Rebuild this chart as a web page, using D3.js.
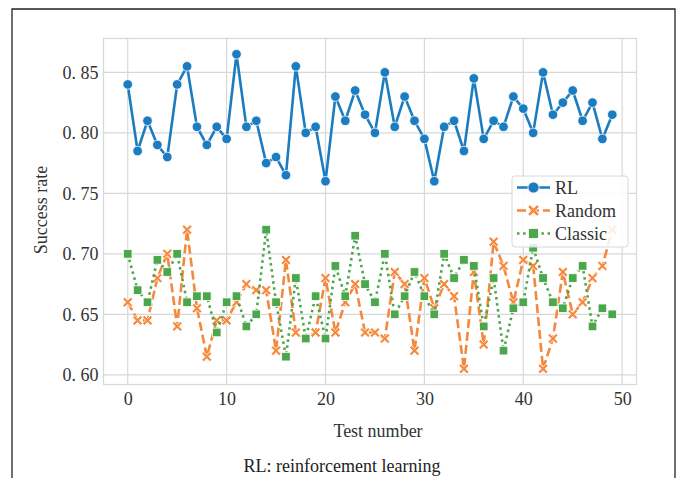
<!DOCTYPE html>
<html>
<head>
<meta charset="utf-8">
<script src="https://cdn.jsdelivr.net/npm/d3@7"></script>
<style>
  body { margin: 0; background: #fff; }
  svg { display: block; font-family: "Liberation Serif", "DejaVu Serif", serif; }
</style>
</head>
<body>
<svg width="681" height="478"></svg>
<script>
// test numbers 0..49
var tests = d3.range(50);

var rlRate = [0.84, 0.785, 0.81, 0.79, 0.78, 0.84, 0.855, 0.805, 0.79, 0.805,
              0.795, 0.865, 0.805, 0.81, 0.775, 0.78, 0.765, 0.855, 0.80, 0.805,
              0.76, 0.83, 0.81, 0.835, 0.815, 0.80, 0.85, 0.805, 0.83, 0.81,
              0.795, 0.76, 0.805, 0.81, 0.785, 0.845, 0.795, 0.81, 0.805, 0.83,
              0.82, 0.80, 0.85, 0.815, 0.825, 0.835, 0.81, 0.825, 0.795, 0.815];

var randomRate = [0.66, 0.645, 0.645, 0.68, 0.70, 0.64, 0.72, 0.655, 0.615, 0.645,
                  0.645, 0.66, 0.675, 0.67, 0.67, 0.62, 0.695, 0.635, 0.63, 0.635,
                  0.68, 0.635, 0.66, 0.675, 0.635, 0.635, 0.63, 0.685, 0.675, 0.62,
                  0.68, 0.655, 0.675, 0.665, 0.605, 0.685, 0.625, 0.71, 0.69, 0.66,
                  0.695, 0.69, 0.605, 0.63, 0.685, 0.65, 0.66, 0.68, 0.69, 0.72];

var classicRate = [0.70, 0.67, 0.66, 0.695, 0.685, 0.70, 0.66, 0.665, 0.665, 0.635,
                   0.66, 0.665, 0.64, 0.65, 0.72, 0.66, 0.615, 0.68, 0.63, 0.665,
                   0.63, 0.69, 0.665, 0.715, 0.675, 0.66, 0.70, 0.65, 0.665, 0.685,
                   0.665, 0.65, 0.70, 0.68, 0.695, 0.69, 0.64, 0.68, 0.62, 0.655,
                   0.66, 0.705, 0.68, 0.66, 0.655, 0.68, 0.69, 0.64, 0.655, 0.65];

var seriesNames = ["RL", "Random", "Classic"];
var xTicks = [0, 10, 20, 30, 40, 50];
var yTicks = [0.60, 0.65, 0.70, 0.75, 0.80, 0.85];

var svg = d3.select("svg");
var plotL = 103.5, plotR = 636.5, plotT = 38.5, plotB = 384.5;

var x = d3.scaleLinear().domain([-2.45, 51.45]).range([plotL, plotR]);
var y = d3.scaleLinear().domain([0.592, 0.878]).range([plotB, plotT]);

// outer frame of the figure
svg.append("path")
    .attr("d", "M12,478 L12,9 L675,9 L675,478")
    .attr("fill", "none")
    .attr("stroke", "#222")
    .attr("stroke-width", 1.3);

// grid
var grid = svg.append("g").attr("class", "grid");
grid.selectAll("line.gx")
  .data(xTicks)
  .enter().append("line")
    .attr("x1", function(d) { return x(d); })
    .attr("x2", function(d) { return x(d); })
    .attr("y1", plotT).attr("y2", plotB)
    .attr("stroke", "#d6d8da").attr("stroke-width", 1.2);
grid.selectAll("line.gy")
  .data(yTicks)
  .enter().append("line")
    .attr("y1", function(d) { return y(d); })
    .attr("y2", function(d) { return y(d); })
    .attr("x1", plotL).attr("x2", plotR)
    .attr("stroke", "#d6d8da").attr("stroke-width", 1.2);

svg.append("rect")
    .attr("x", plotL).attr("y", plotT)
    .attr("width", plotR - plotL).attr("height", plotB - plotT)
    .attr("fill", "none").attr("stroke", "#d6d8da").attr("stroke-width", 1.2);

// axes (labels only, seaborn whitegrid look)
var xAxis = svg.append("g")
    .attr("transform", "translate(0," + plotB + ")")
    .call(d3.axisBottom(x).tickValues(xTicks).tickSize(0).tickPadding(8));
var yAxis = svg.append("g")
    .attr("transform", "translate(" + plotL + ",0)")
    .call(d3.axisLeft(y).tickValues(yTicks).tickSize(0).tickPadding(5)
      .tickFormat(function(d) { return d3.format(".2f")(d).replace(".", ". "); }));
[xAxis, yAxis].forEach(function(a) {
  a.select(".domain").remove();
  a.selectAll("text")
    .attr("font-family", "Liberation Serif, serif")
    .attr("font-size", 18)
    .attr("fill", "#333");
});

svg.append("text")
    .attr("x", 378).attr("y", 437)
    .attr("text-anchor", "middle")
    .attr("font-size", 18).attr("fill", "#333")
    .text("Test number");

svg.append("text")
    .attr("transform", "translate(47,210) rotate(-90)")
    .attr("text-anchor", "middle")
    .attr("font-size", 18).attr("fill", "#333")
    .text("Success rate");

svg.append("text")
    .attr("x", 342).attr("y", 472)
    .attr("text-anchor", "middle")
    .attr("font-size", 18).attr("fill", "#222")
    .text("RL: reinforcement learning");

// marker shapes
function xMark(h, a) {
  return "M" + [[-h, -h + a], [-h + a, -h], [0, -a], [h - a, -h], [h, -h + a], [a, 0],
                [h, h - a], [h - a, h], [0, a], [-h + a, h], [-h, h - a], [-a, 0]]
    .map(function(p) { return p.join(","); }).join("L") + "Z";
}

var series = [
  { name: seriesNames[0], values: rlRate, color: "#1b7cc0", dash: null, marker: "circle" },
  { name: seriesNames[1], values: randomRate, color: "#f5883a", dash: "9,4", marker: "x" },
  { name: seriesNames[2], values: classicRate, color: "#4ca74c", dash: "2.5,3.6", marker: "square" }
];

var line = d3.line()
    .x(function(d) { return x(d[0]); })
    .y(function(d) { return y(d[1]); });

function drawMarker(sel, s, k) {
  k = k || 1;
  if (s.marker == "circle") {
    sel.append("circle").attr("r", 4.8 * k);
  } else if (s.marker == "square") {
    sel.append("rect").attr("x", -4.3 * k).attr("y", -4.3 * k)
      .attr("width", 8.6 * k).attr("height", 8.6 * k);
  } else {
    sel.append("path").attr("d", xMark(5 * k, 1.9 * k));
  }
  sel.selectAll("*")
    .attr("fill", s.color)
    .attr("stroke", "#fff")
    .attr("stroke-width", 0.8);
}

series.forEach(function(s) {
  var pts = tests.map(function(t, i) { return [t, s.values[i]]; });
  var g = svg.append("g");
  g.append("path")
      .datum(pts)
      .attr("d", line)
      .attr("fill", "none")
      .attr("stroke", s.color)
      .attr("stroke-width", 2.6)
      .attr("stroke-dasharray", s.dash);
  g.selectAll("g.pt")
    .data(pts)
    .enter().append("g")
      .attr("transform", function(d) { return "translate(" + x(d[0]) + "," + y(d[1]) + ")"; })
      .each(function() { drawMarker(d3.select(this), s); });
});

// legend
var leg = svg.append("g").attr("transform", "translate(512,176)");
leg.append("rect")
    .attr("width", 116).attr("height", 71).attr("rx", 3)
    .attr("fill", "#fff").attr("fill-opacity", 0.85)
    .attr("stroke", "#d6d8da").attr("stroke-width", 1);
series.forEach(function(s, i) {
  var row = leg.append("g").attr("transform", "translate(0," + (11.5 + i * 23) + ")");
  row.append("line")
      .attr("x1", 5).attr("x2", 38)
      .attr("stroke", s.color).attr("stroke-width", 2.6)
      .attr("stroke-dasharray", s.dash);
  var m = row.append("g").attr("transform", "translate(21.5,0)");
  drawMarker(m, s, 1.15);
  row.append("text")
      .attr("x", 43).attr("dy", "0.35em")
      .attr("font-size", 18).attr("fill", "#333")
      .text(s.name);
});
</script>
</body>
</html>
